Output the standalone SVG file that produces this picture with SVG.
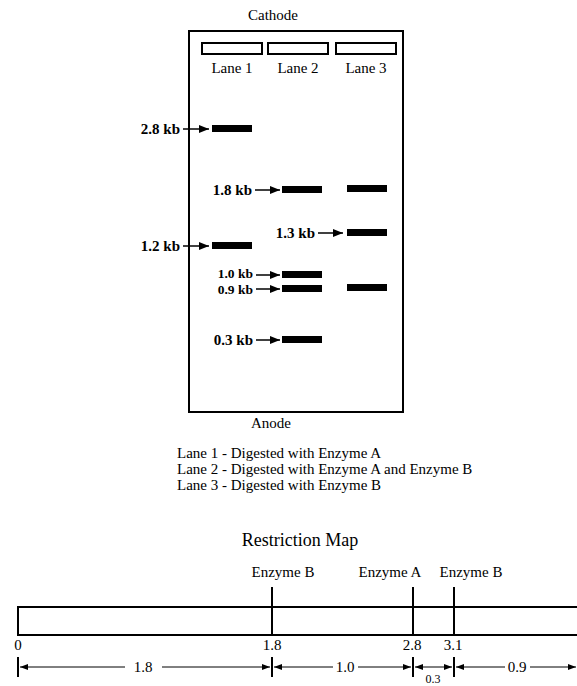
<svg xmlns="http://www.w3.org/2000/svg" width="577" height="686" viewBox="0 0 577 686">
<style>
text{font-family:"Liberation Serif","Times New Roman",serif;fill:#000}
.t{font-size:15px}
.kb{font-size:15px;font-weight:bold}
.kbs{font-size:13.5px;font-weight:bold}
.box{fill:none;stroke:#000;stroke-width:2}
.well{fill:#fff;stroke:#000;stroke-width:2}
.band{fill:#000}
.ln{stroke:#000;stroke-width:1.5;fill:none}
.dim{stroke:#000;stroke-width:1;fill:none}
</style>
<defs>
<marker id="ah" viewBox="0 0 10 8" refX="10" refY="4" markerWidth="10" markerHeight="8" markerUnits="userSpaceOnUse" orient="auto-start-reverse">
<path d="M0,0 L10,4 L0,8 Z" fill="#000"/>
</marker>
<marker id="sh" viewBox="0 0 8 6" refX="8" refY="3" markerWidth="8" markerHeight="6" markerUnits="userSpaceOnUse" orient="auto-start-reverse">
<path d="M0,0 L8,3 L0,6 Z" fill="#000"/>
</marker>
</defs>

<g id="gel">
<text class="t" x="273" y="20" text-anchor="middle">Cathode</text>
<rect class="box" x="189" y="31" width="214" height="381"/>
<rect class="well" x="202" y="43" width="60" height="11"/>
<rect class="well" x="268" y="43" width="60" height="11"/>
<rect class="well" x="336" y="43" width="60" height="11"/>
<text class="t" x="232" y="73" text-anchor="middle">Lane 1</text>
<text class="t" x="298" y="73" text-anchor="middle">Lane 2</text>
<text class="t" x="366" y="73" text-anchor="middle">Lane 3</text>
<text class="t" x="271" y="428" text-anchor="middle">Anode</text>
</g>

<g id="lane1">
<rect class="band" x="212" y="125" width="40" height="7"/>
<rect class="band" x="212" y="242" width="40" height="7"/>
</g>
<g id="lane2">
<rect class="band" x="282" y="186" width="40" height="7"/>
<rect class="band" x="282" y="271" width="40" height="7"/>
<rect class="band" x="282" y="285" width="40" height="7"/>
<rect class="band" x="282" y="336" width="40" height="7"/>
</g>
<g id="lane3">
<rect class="band" x="347" y="185" width="40" height="7"/>
<rect class="band" x="347" y="229" width="40" height="7"/>
<rect class="band" x="347" y="284" width="40" height="7"/>
</g>

<g id="labels">
<text class="kb" x="180" y="134" text-anchor="end">2.8 kb</text>
<text class="kb" x="180" y="251" text-anchor="end">1.2 kb</text>
<text class="kb" x="252" y="195" text-anchor="end">1.8 kb</text>
<text class="kb" x="315" y="238" text-anchor="end">1.3 kb</text>
<text class="kbs" x="253" y="278" text-anchor="end">1.0 kb</text>
<text class="kbs" x="253" y="294" text-anchor="end">0.9 kb</text>
<text class="kb" x="253" y="345" text-anchor="end">0.3 kb</text>
</g>

<g id="connectors">
<line class="ln" x1="183" y1="129" x2="209" y2="129" marker-end="url(#ah)"/>
<line class="ln" x1="183" y1="246" x2="209" y2="246" marker-end="url(#ah)"/>
<line class="ln" x1="255" y1="190" x2="280" y2="190" marker-end="url(#ah)"/>
<line class="ln" x1="318" y1="233" x2="343" y2="233" marker-end="url(#ah)"/>
<line class="ln" x1="256" y1="275" x2="280" y2="275" marker-end="url(#ah)"/>
<line class="ln" x1="256" y1="289" x2="280" y2="289" marker-end="url(#ah)"/>
<line class="ln" x1="256" y1="340" x2="280" y2="340" marker-end="url(#ah)"/>
</g>

<g id="legend">
<text class="t" x="177" y="458">Lane 1 - Digested with Enzyme A</text>
<text class="t" x="177" y="474">Lane 2 - Digested with Enzyme A and Enzyme B</text>
<text class="t" x="177" y="490">Lane 3 - Digested with Enzyme B</text>
</g>

<g id="map">
<text x="300" y="546" text-anchor="middle" style="font-size:18px">Restriction Map</text>
<rect class="box" x="18" y="607" width="570" height="28"/>
<line class="box" x1="272" y1="587" x2="272" y2="635"/>
<line class="box" x1="413" y1="587" x2="413" y2="635"/>
<line class="box" x1="454" y1="587" x2="454" y2="635"/>
<text class="t" x="283" y="577" text-anchor="middle">Enzyme B</text>
<text class="t" x="390" y="577" text-anchor="middle">Enzyme A</text>
<text class="t" x="471" y="577" text-anchor="middle">Enzyme B</text>
<text class="t" x="18" y="650" text-anchor="middle">0</text>
<text class="t" x="272" y="650" text-anchor="middle">1.8</text>
<text class="t" x="412" y="650" text-anchor="middle">2.8</text>
<text class="t" x="453" y="650" text-anchor="middle">3.1</text>
</g>

<g id="dimensions">
<line class="box" x1="18" y1="657" x2="18" y2="677"/>
<line class="box" x1="272" y1="657" x2="272" y2="677"/>
<line class="box" x1="413" y1="657" x2="413" y2="677"/>
<line class="box" x1="454" y1="657" x2="454" y2="677"/>
<line class="dim" x1="125" y1="667" x2="20" y2="667" marker-end="url(#sh)"/>
<line class="dim" x1="162" y1="667" x2="270" y2="667" marker-end="url(#sh)"/>
<text class="t" x="143" y="672" text-anchor="middle">1.8</text>
<line class="dim" x1="333" y1="667" x2="274" y2="667" marker-end="url(#sh)"/>
<line class="dim" x1="358" y1="667" x2="411" y2="667" marker-end="url(#sh)"/>
<text class="t" x="345" y="672" text-anchor="middle">1.0</text>
<line class="dim" x1="415" y1="667" x2="452" y2="667" marker-start="url(#sh)" marker-end="url(#sh)"/>
<text x="433" y="683" text-anchor="middle" style="font-size:12px">0.3</text>
<line class="dim" x1="505" y1="667" x2="456" y2="667" marker-end="url(#sh)"/>
<line class="dim" x1="530" y1="667" x2="576" y2="667" marker-end="url(#sh)"/>
<text class="t" x="517" y="672" text-anchor="middle">0.9</text>
</g>
</svg>
